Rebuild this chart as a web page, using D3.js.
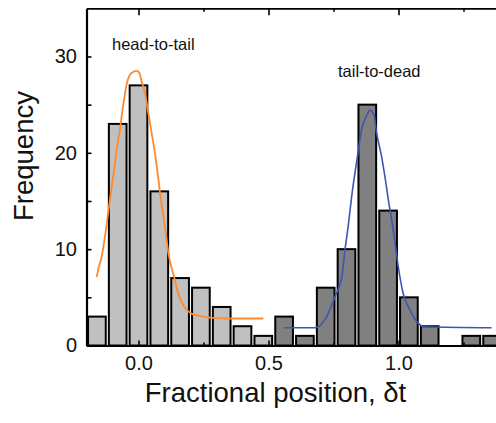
<!DOCTYPE html>
<html>
<head>
<meta charset="utf-8">
<script src="https://cdn.jsdelivr.net/npm/d3@7"></script>
<style>
  html, body { margin: 0; padding: 0; background: #fff; }
  svg { display: block; }
  text { font-family: "Liberation Sans", Arial, sans-serif; fill: #111; }
</style>
</head>
<body>
<svg id="chart" width="496" height="423"></svg>
<script>
// ---------- data ----------
const binCenters = [-0.16, -0.08, 0.00, 0.08, 0.16, 0.24, 0.32, 0.40, 0.48,
                    0.56, 0.64, 0.72, 0.80, 0.88, 0.96, 1.04, 1.12, 1.20, 1.28, 1.36];
const headToTailCounts = [3, 23, 27, 16, 7, 6, 4, 2, 1,
                          0, 0, 0, 0, 0, 0, 0, 0, 0, 0, 0];
const tailToDeadCounts = [0, 0, 0, 0, 0, 0, 0, 0, 0,
                          3, 1, 6, 10, 25, 14, 5, 2, 0, 1, 1];

// fitted curves
const headFitX = [-0.161, -0.152, -0.142, -0.129, -0.116, -0.103, -0.094, -0.084, -0.071, -0.058,
                  -0.045, -0.033, -0.020, -0.007, 0.003, 0.012, 0.025, 0.038, 0.051, 0.063,
                  0.076, 0.083, 0.102, 0.115, 0.140, 0.153, 0.172, 0.198, 0.230, 0.275, 0.339, 0.480];
const headFitY = [7.1, 8.2, 9.15, 11.3, 13.9, 16.5, 18.2, 20.3, 22.5, 25.1,
                  27.2, 28.1, 28.4, 28.5, 28.3, 27.4, 26.2, 24.1, 22.0, 20.0,
                  17.4, 15.8, 12.3, 9.6, 6.8, 5.4, 4.2, 3.4, 3.1, 2.9, 2.8, 2.8];
const tailFitX = [0.561, 0.679, 0.724, 0.756, 0.782, 0.794, 0.807, 0.820, 0.842, 0.858,
                  0.878, 0.890, 0.906, 0.915, 0.935, 0.948, 0.961, 0.974, 0.987, 0.999,
                  1.018, 1.044, 1.070, 1.102, 1.358];
const tailFitY = [1.85, 1.85, 3.0, 5.1, 7.1, 9.9, 12.5, 15.5, 19.6, 22.4,
                  23.9, 24.4, 23.9, 22.2, 19.6, 17.5, 15.1, 13.0, 10.6, 8.2,
                  5.4, 3.7, 2.5, 1.95, 1.85];

const xMajorTicks = [0.0, 0.5, 1.0];
const xMinorTicks = [0.25, 0.75, 1.25];
const yMajorTicks = [0, 10, 20, 30];
const yMinorTicks = [5, 15, 25];
const xDomain = [-0.2, 1.4];
const yDomain = [0, 35];
const binWidth = 0.068;

const labels = {
  x: "Fractional position, \u03b4t",
  y: "Frequency",
  head: "head-to-tail",
  tail: "tail-to-dead"
};

// ---------- layout ----------
const svg = d3.select("#chart");
const mLeft = 86.5, mRight = 502.5, mTop = 8.3, mBottom = 345.5;

const x = d3.scaleLinear().domain(xDomain).range([mLeft, mRight]);
const y = d3.scaleLinear().domain(yDomain).range([mBottom, mTop]);

const lightFill = "#c0c0c0", darkFill = "#808080";
const orange = "#ff8a2e", blue = "#3f55b4";

// bars
const headBars = binCenters.map((c, i) => ({c, v: headToTailCounts[i]})).filter(d => d.v > 0);
const tailBars = binCenters.map((c, i) => ({c, v: tailToDeadCounts[i]})).filter(d => d.v > 0);

function drawBars(data, fill) {
  svg.append("g").selectAll("rect").data(data).join("rect")
    .attr("x", d => x(d.c - binWidth / 2))
    .attr("width", d => x(d.c + binWidth / 2) - x(d.c - binWidth / 2))
    .attr("y", d => y(d.v))
    .attr("height", d => y(0) - y(d.v))
    .attr("fill", fill)
    .attr("stroke", "#000")
    .attr("stroke-width", 2);
}
drawBars(headBars, lightFill);
drawBars(tailBars, darkFill);

// fit curves
const line = d3.line().x(d => x(d[0])).y(d => y(d[1])).curve(d3.curveMonotoneX);
svg.append("path")
  .attr("d", line(d3.zip(headFitX, headFitY)))
  .attr("fill", "none").attr("stroke", orange).attr("stroke-width", 1.8);
svg.append("path")
  .attr("d", line(d3.zip(tailFitX, tailFitY)))
  .attr("fill", "none").attr("stroke", blue).attr("stroke-width", 1.6);

// axes
function styleAxis(g, width) {
  g.select(".domain").attr("stroke", "#000").attr("stroke-width", width);
  g.selectAll(".tick line").attr("stroke", "#000").attr("stroke-width", 1.6);
  g.selectAll(".tick text").style("font-size", "20px")
    .style("font-family", "'Liberation Sans', Arial, sans-serif").attr("fill", "#111");
}

// bottom
const gb = svg.append("g").attr("transform", `translate(0,${mBottom})`)
  .call(d3.axisBottom(x).tickValues(xMajorTicks).tickFormat(d3.format(".1f"))
    .tickSizeInner(-5).tickSizeOuter(0).tickPadding(10));
styleAxis(gb, 2.2);
svg.append("g").attr("transform", `translate(0,${mBottom})`)
  .call(d3.axisBottom(x).tickValues(xMinorTicks).tickFormat("").tickSizeInner(-3).tickSizeOuter(0))
  .call(g => { g.select(".domain").remove(); g.selectAll("line").attr("stroke", "#000").attr("stroke-width", 1.6); });

// top
const gt = svg.append("g").attr("transform", `translate(0,${mTop})`)
  .call(d3.axisTop(x).tickValues(xMajorTicks).tickFormat("").tickSizeInner(-7).tickSizeOuter(0));
styleAxis(gt, 1.8);
svg.append("g").attr("transform", `translate(0,${mTop})`)
  .call(d3.axisTop(x).tickValues(xMinorTicks).tickFormat("").tickSizeInner(-3.5).tickSizeOuter(0))
  .call(g => { g.select(".domain").remove(); g.selectAll("line").attr("stroke", "#000").attr("stroke-width", 1.6); });

// left
const gl = svg.append("g").attr("transform", `translate(${mLeft},0)`)
  .call(d3.axisLeft(y).tickValues(yMajorTicks).tickFormat(d3.format("d"))
    .tickSizeInner(-5).tickSizeOuter(0).tickPadding(9.5));
styleAxis(gl, 2.2);
svg.append("g").attr("transform", `translate(${mLeft},0)`)
  .call(d3.axisLeft(y).tickValues(yMinorTicks).tickFormat("").tickSizeInner(-5).tickSizeOuter(0))
  .call(g => { g.select(".domain").remove(); g.selectAll("line").attr("stroke", "#000").attr("stroke-width", 1.6); });

// axis titles
svg.append("text")
  .attr("x", 275.5).attr("y", 402)
  .attr("text-anchor", "middle")
  .style("font-size", "27.5px")
  .text(labels.x);

svg.append("text")
  .attr("transform", "translate(33,156) rotate(-90)")
  .attr("text-anchor", "middle")
  .style("font-size", "27.5px")
  .text(labels.y);

// annotations
svg.append("text").attr("x", 112).attr("y", 50)
  .style("font-size", "16.5px").text(labels.head);
svg.append("text").attr("x", 338).attr("y", 77)
  .style("font-size", "16.5px").text(labels.tail);
</script>
</body>
</html>
